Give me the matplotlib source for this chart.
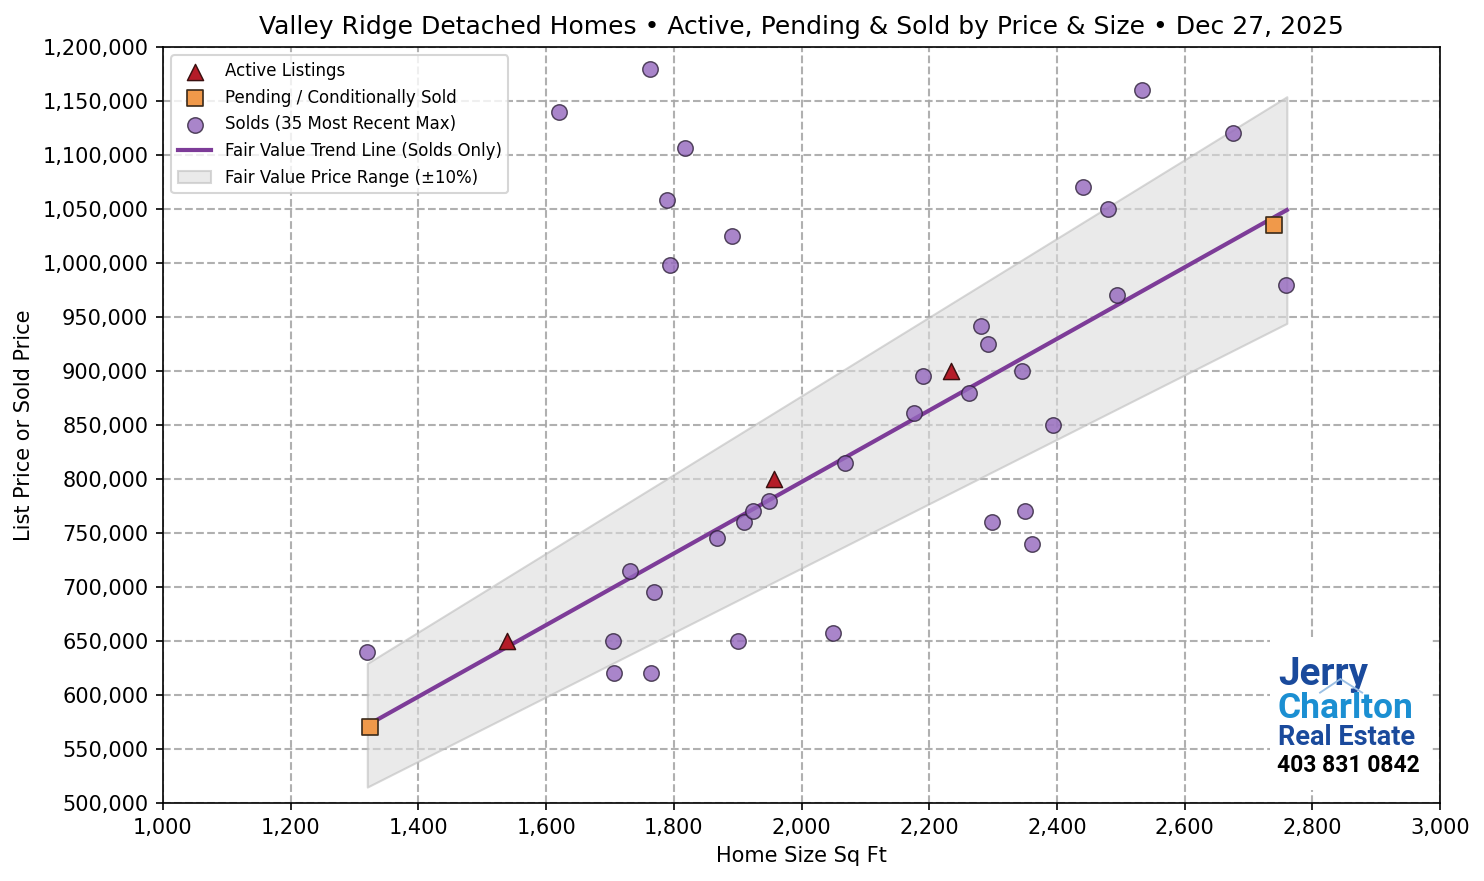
import numpy as np
import matplotlib
matplotlib.use('Agg')
import matplotlib.pyplot as plt
from matplotlib.patches import Rectangle
from matplotlib.ticker import FuncFormatter

# ---------- data ----------
sold_sqft = [1320, 1620, 1763, 1817, 1789, 1794, 1891, 1705, 1706, 1764,
             1900, 1731, 1769, 1868, 1910, 1924, 1949, 2068, 2049, 2176,
             2190, 2262, 2281, 2292, 2345, 2394, 2298, 2350, 2361, 2441,
             2480, 2494, 2533, 2676, 2759]
sold_price = [640000, 1140000, 1180000, 1106000, 1058000, 998000, 1025000, 650000, 620000, 620000,
              650000, 715000, 695000, 745000, 760000, 770000, 780000, 815000, 657000, 861000,
              895000, 880000, 942000, 925000, 900000, 850000, 760000, 770000, 740000, 1070000,
              1050000, 970000, 1160000, 1120000, 980000]

active_sqft = [1539, 1957, 2234]
active_price = [650000, 800000, 900000]

pending_sqft = [1324, 2740]
pending_price = [570000, 1035000]

# fair value trend (at the ends of the sold range)
trend_sqft = [1320, 2760]
trend_price = [572000, 1049000]
band_pct = 0.10

TITLE = "Valley Ridge Detached Homes \u2022 Active, Pending & Sold by Price & Size \u2022 Dec 27, 2025"

# ---------- figure ----------
fig = plt.figure(figsize=(1484 / 150, 881 / 150), dpi=150)
ax = fig.add_axes([0.1098, 0.0885, 0.8606, 0.8582])

xs = np.array(trend_sqft, dtype=float)
ys = np.array(trend_price, dtype=float)

ax.fill_between(xs, ys * (1 - band_pct), ys * (1 + band_pct), facecolor='#dcdcdc', edgecolor='#bdbdbd',
                alpha=0.6, linewidth=1, zorder=1, label='Fair Value Price Range (\u00b110%)')
ax.plot(xs, ys, color='#7d3c98', linewidth=2, zorder=3, label='Fair Value Trend Line (Solds Only)')

ax.scatter(active_sqft, active_price, marker='^', s=60, color='#b41c28', edgecolor='#3a1010',
           linewidth=0.7, zorder=5, label='Active Listings')
ax.scatter(pending_sqft, pending_price, marker='s', s=60, color='#f0994a', edgecolor='#3a2a1a',
           linewidth=0.8, zorder=5, label='Pending / Conditionally Sold')
ax.scatter(sold_sqft, sold_price, marker='o', s=55, color='#9467bd', edgecolor='#2d2038',
           linewidth=0.7, alpha=0.8, zorder=4, label='Solds (35 Most Recent Max)')

ax.set_xlim(1000, 3000)
ax.set_ylim(500000, 1200000)
ax.set_xticks(np.arange(1000, 3001, 200))
ax.set_yticks(np.arange(500000, 1200001, 50000))
ax.xaxis.set_major_formatter(FuncFormatter(lambda v, p: f'{v:,.0f}'))
ax.yaxis.set_major_formatter(FuncFormatter(lambda v, p: f'{v:,.0f}'))
ax.grid(True, linestyle='--', color='#a8a8a8', linewidth=1, alpha=0.9, zorder=0)
ax.set_axisbelow(True)

ax.set_title(TITLE, fontsize=12)
ax.set_xlabel('Home Size Sq Ft')
ax.set_ylabel('List Price or Sold Price')

handles, labels = ax.get_legend_handles_labels()
order = ['Active Listings', 'Pending / Conditionally Sold', 'Solds (35 Most Recent Max)',
         'Fair Value Trend Line (Solds Only)', 'Fair Value Price Range (\u00b110%)']
hl = dict(zip(labels, handles))
ax.legend([hl[k] for k in order], order, loc='upper left', fontsize=8, labelspacing=0.52)

# logo block
ax.add_patch(Rectangle((0.867, 0.017), 0.127, 0.203, transform=ax.transAxes,
                       facecolor='white', edgecolor='none', zorder=6))
ax.text(0.873, 0.170, 'Jerry', transform=ax.transAxes, fontsize=18.5, fontweight='bold',
        color='#1a4a9c', family='Roboto', va='center', zorder=7)
ax.text(0.873, 0.125, 'Charlton', transform=ax.transAxes, fontsize=17, fontweight='bold',
        color='#1b8fd2', family='Roboto', va='center', zorder=7)
ax.text(0.873, 0.087, 'Real Estate', transform=ax.transAxes, fontsize=13, fontweight='bold',
        color='#1a4a9c', family='Roboto', va='center', zorder=7)
ax.text(0.872, 0.050, '403 831 0842', transform=ax.transAxes, fontsize=11, fontweight='bold',
        color='black', family='Roboto', va='center', zorder=7)
ax.plot([0.906, 0.922, 0.939], [0.146, 0.164, 0.146], transform=ax.transAxes,
        color='#9cc0e4', linewidth=0.9, zorder=7)

fig.savefig('out.png', dpi=150)
